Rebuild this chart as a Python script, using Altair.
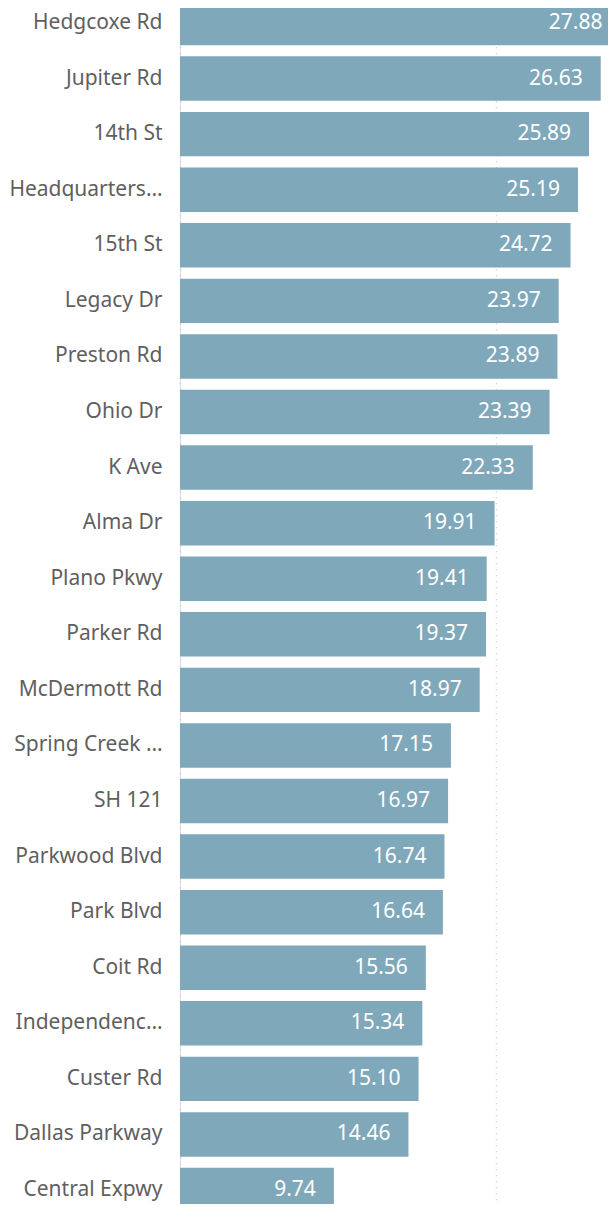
import altair as alt
import pandas as pd

roads = ["Hedgcoxe Rd", "Jupiter Rd", "14th St", "Headquarters…", "15th St",
         "Legacy Dr", "Preston Rd", "Ohio Dr", "K Ave", "Alma Dr", "Plano Pkwy",
         "Parker Rd", "McDermott Rd", "Spring Creek …", "SH 121", "Parkwood Blvd",
         "Park Blvd", "Coit Rd", "Independenc…", "Custer Rd", "Dallas Parkway",
         "Central Expwy"]
values = [27.88, 26.63, 25.89, 25.19, 24.72, 23.97, 23.89, 23.39, 22.33, 19.91,
          19.41, 19.37, 18.97, 17.15, 16.97, 16.74, 16.64, 15.56, 15.34, 15.10,
          14.46, 9.74]

df = pd.DataFrame({"road": roads, "value": values})

FONT = "Noto Sans"
FS = 21

yscale = alt.Scale(paddingInner=0.2, paddingOuter=0.1)
xscale = alt.Scale(domain=[0, 27.09], nice=False, zero=True)

y = alt.Y("road:N", sort=roads, title=None, scale=yscale,
          axis=alt.Axis(ticks=False, domain=False, labelPadding=18, labelFontSize=FS,
                        labelFont=FONT, labelColor="#5f5f5f", labelLimit=0))
x = alt.X("value:Q", title=None, scale=xscale,
          axis=alt.Axis(values=[0, 20], labels=False, ticks=False, domain=False,
                        grid=True, gridColor="#c8c8c8", gridDash=[1, 5], gridWidth=1.5))

base = alt.Chart(df).encode(x=x, y=y)
bars = base.mark_bar(color="#7fa8ba")
labels = base.mark_text(align="right", baseline="middle", dx=-18,
                        color="white", fontSize=FS, font=FONT).encode(
    text=alt.Text("value:Q", format=".2f"))

chart = alt.layer(bars, labels).properties(
    width=428, height=1222.6,
    autosize=alt.AutoSizeParams(type="none"),
    padding={"left": 172, "top": -12.79, "right": 0, "bottom": -13.8},
).configure_view(stroke=None).configure(background="white")

chart.save("out.html", embed_options={"renderer": "svg", "actions": False})
